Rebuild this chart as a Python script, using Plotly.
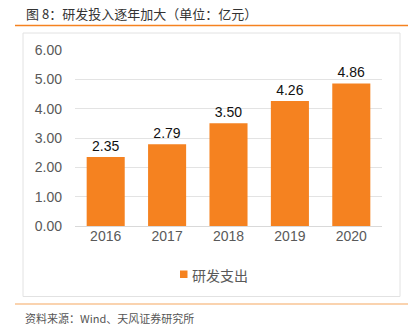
import plotly.graph_objects as go

years = ["2016", "2017", "2018", "2019", "2020"]
rd_spend = [2.35, 2.79, 3.50, 4.26, 4.86]
series_name = "研发支出"
title_text = "图 8：研发投入逐年加大（单位：亿元）"
source_text = "资料来源：Wind、天风证券研究所"
y_ticks = [0, 1, 2, 3, 4, 5, 6]
bar_color = "#F58220"

W, H = 419, 328
L, R, T, B = 75, 37, 50, 102
PW, PH = W - L - R, H - T - B

def px(x):
    return (x - L) / PW

def py(y):
    return (H - B - y) / PH

fig = go.Figure()
fig.add_trace(go.Bar(
    x=years, y=rd_spend, name=series_name,
    marker=dict(color=bar_color, line=dict(width=0)),
    text=[f"{v:.2f}" for v in rd_spend], textposition="outside",
    textfont=dict(family="Liberation Sans, Arial", size=14, color="#111"),
    cliponaxis=False, showlegend=False,
))

fig.update_layout(
    width=W, height=H,
    margin=dict(l=L, r=R, t=T, b=B),
    paper_bgcolor="white", plot_bgcolor="white",
    bargap=0.38,
    showlegend=False,
    font=dict(family="Liberation Sans, Arial", size=13, color="#595959"),
    xaxis=dict(showline=False, ticks="", tickfont=dict(size=14, color="#595959"),
               showgrid=False),
    yaxis=dict(range=[0, 6], tickvals=y_ticks, tickformat=".2f",
               showgrid=True, gridcolor="#e3e3e3", gridwidth=1,
               zeroline=True, zerolinecolor="#d9d9d9", zerolinewidth=1,
               tickfont=dict(size=14, color="#595959"), ticks="",
               ticklabelstandoff=12),
)

shapes = [
    dict(type="line", xref="paper", yref="paper", x0=px(15), x1=px(408), y0=py(25.5), y1=py(25.5),
         line=dict(color=bar_color, width=1.5)),
    dict(type="rect", xref="paper", yref="paper", x0=px(23), x1=px(400), y0=py(33), y1=py(296.5),
         line=dict(color="#e2e2e2", width=1), layer="below"),
    dict(type="line", xref="paper", yref="paper", x0=px(15), x1=px(408), y0=py(304), y1=py(304),
         line=dict(color="#F9C595", width=1.5)),
    # legend swatch
    dict(type="rect", xref="paper", yref="paper", x0=px(180), x1=px(187.5), y0=py(278), y1=py(270.5),
         line=dict(width=0), fillcolor=bar_color),
]
fig.update_layout(shapes=shapes)

fig.add_annotation(text=series_name, xref="paper", yref="paper", x=px(190), y=py(275),
                   xanchor="left", yanchor="middle", showarrow=False,
                   font=dict(family="Noto Sans CJK SC", size=14, color="#595959"))
fig.add_annotation(text=title_text, xref="paper", yref="paper", x=px(24), y=py(14),
                   xanchor="left", yanchor="middle", showarrow=False,
                   font=dict(family="Noto Sans CJK SC", size=13, color="#333"))
fig.add_annotation(text=source_text, xref="paper", yref="paper", x=px(23), y=py(318),
                   xanchor="left", yanchor="middle", showarrow=False,
                   font=dict(family="Noto Sans CJK SC", size=11, color="#555"))

fig.write_html("out.html")
